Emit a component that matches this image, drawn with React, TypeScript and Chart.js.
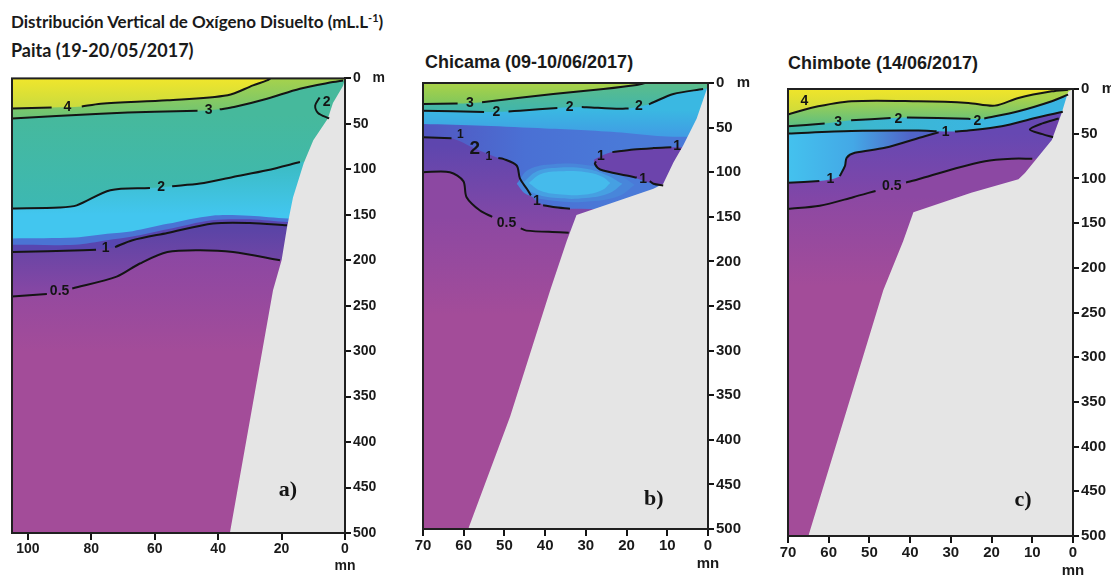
import React, { useEffect, useRef } from "react";
import { Chart, registerables } from "chart.js";
Chart.register(...registerables);

type P = [number, number] | null;
type Lab = { x: number; y: number; t: string; s?: number };

// ---------- ticks ----------
const depthTicks = [0, 50, 100, 150, 200, 250, 300, 350, 400, 450, 500];
const paitaXTicks = [0, 20, 40, 60, 80, 100];
const coastXTicks = [0, 10, 20, 30, 40, 50, 60, 70];

// ---------- Paita (a) ----------
const paitaBathy: P[] = [[0, 0], [0.6, 8], [3.8, 27], [5.4, 44], [10, 68], [13, 93], [16.4, 131], [18.3, 164], [20, 200], [22.7, 233], [36.3, 500]];
const paitaC4: P[] = [[105, 33], [92.5, 32], null, [83, 31], [77, 27.8], [56, 24], [37, 18.6], [29, 7.7], [24.6, 2.2], [23.5, 0]];
const paitaC3: P[] = [[105, 44], [77, 38.8], [60, 36.6], [46.5, 35.6], null, [39.5, 34], [35, 31.5], [24.6, 22.3], [14.2, 11.3], [3.8, 4], [0.6, 2.2]];
const paitaC2: P[] = [[105, 143], [90, 142], [84.6, 139.6], [74, 123], [61.5, 120.5], null, [54.5, 118.5], [45.7, 115.7], [35.3, 108.4], [24.6, 101], [14.2, 92]];
const paitaC2b: P[] = [[8, 21], [9.4, 30], [8.5, 38], [5, 44]];
const paitaC1: P[] = [[105, 191], [82.6, 189], [78.5, 188.5], null, [72.5, 185.5], [67, 178], [56, 170], [41.6, 159.6], [30, 159], [18.3, 161.6]];
const paitaC05: P[] = [[105, 240], [94, 237], null, [86, 231], [72, 218], [64.7, 203.6], [56, 191], [45.7, 189], [35.3, 191], [20.5, 200]];
const paitaL14: P[] = [[105, 176], [85, 175], [75, 171], [67, 168], [56, 160], [42, 151], [30, 151], [18, 154], [0, 154]];
const paitaL12: P[] = [[105, 183], [85, 183], [75, 178], [67, 174], [56, 166], [42, 156], [30, 155], [18, 158], [0, 158]];
const paitaLabels: Lab[] = [
  { x: 87.5, y: 31.5, t: "4" }, { x: 43, y: 35, t: "3" }, { x: 58, y: 119.5, t: "2" },
  { x: 75.5, y: 187, t: "1" }, { x: 90, y: 234, t: "0.5" }, { x: 5.8, y: 26, t: "2" },
];

// ---------- Chicama (b) ----------
const chicamaBathy: P[] = [[0, 0], [0.3, 7], [2.8, 40], [6.1, 70], [8.5, 89], [11, 113], [13.4, 118.6], [24, 135], [32.3, 148], [34.7, 177], [38.8, 233], [48.6, 374], [58.9, 500]];
const chicamaC3: P[] = [[70, 23.5], [61.5, 23], null, [55.5, 21.5], [38, 12.3], [25.7, 6.7], [17.5, 2.2], [15.5, 0]];
const chicamaC2: P[] = [[70, 31], [55, 32.5], null, [49, 32], [46.2, 31], [37, 28], null, [31, 27], [29.8, 27.2], [21.6, 29], [19.5, 28.5], null, [14.5, 24], [13.4, 21.6], [8.5, 12.3], [1.2, 6.7]];
const chicamaC1: P[] = [[70, 60.8], [63, 62], null, [51.5, 84], [50.3, 85], [47, 92.5], [46.2, 107], [44.5, 118.6], [43.5, 126], null, [40.5, 137], [38, 139], [33.9, 141]];
const chicamaC1Area: P[] = [[70, 60.8], [63, 62], [57, 74], [51.5, 84], [50.3, 85], [47, 92.5], [46.2, 107], [44.5, 118.6], [42, 133], [38, 139], [33.9, 141], [0, 141]];
const chicamaLoopTop: P[] = [[23.5, 77.5], [18.3, 74.6], [13.4, 73], [9, 72]];
const chicamaLoopBot: P[] = [[27.5, 88], [27.8, 90.6], [26.5, 97], [20, 103.7], [17.5, 106], null, [14.3, 110], [13.4, 113], [11, 115]];
const chicamaLoopAreaTop: P[] = [[28, 86], [24, 78], [18.3, 74.6], [13.4, 73], [9, 72], [5, 72]];
const chicamaLoopAreaBot: P[] = [[28, 86], [27.8, 90.6], [26.5, 97], [20, 103.7], [13.4, 113], [11, 115], [5, 115]];
const chicamaC05: P[] = [[70, 100], [63.4, 100], [60.1, 110], [59.3, 128], [56, 143], [53, 150], null, [46, 163], [44.6, 165.5], [36.4, 167.4], [34.2, 168]];
const chicamaCyan: P[] = [[70, 46], [55, 48], [40, 51], [30, 53], [20, 56], [10, 60], [0, 60]];
const chicamaBlobTop: P[] = [[47, 113], [44, 97], [38, 91], [30, 92], [23, 100], [18, 114]];
const chicamaBlobBot: P[] = [[47, 113], [44.5, 125], [38, 132], [30, 133], [22, 127], [18, 114]];
const chicamaMidTop: P[] = [[45.5, 112], [42, 99], [37, 95], [30, 96], [25, 103], [21, 113]];
const chicamaMidBot: P[] = [[45.5, 112], [43, 123], [37, 129], [30, 129], [24, 123], [21, 113]];
const chicamaCoreTop: P[] = [[44, 112], [41, 102], [36, 99], [30, 100], [26, 105], [24, 112]];
const chicamaCoreBot: P[] = [[44, 112], [41, 121], [36, 125], [30, 125], [26, 120], [24, 112]];
const chicamaLabels: Lab[] = [
  { x: 58.5, y: 23, t: "3" }, { x: 52, y: 33, t: "2" }, { x: 34, y: 27.5, t: "2" }, { x: 17, y: 26.5, t: "2" },
  { x: 60.8, y: 58, t: "1", s: 12 }, { x: 57.3, y: 74, t: "2", s: 19 }, { x: 53.8, y: 83, t: "1", s: 12 },
  { x: 42, y: 132, t: "1" }, { x: 26.3, y: 82, t: "1" }, { x: 7.6, y: 71, t: "1" }, { x: 15.9, y: 108, t: "1" },
  { x: 49.5, y: 157, t: "0.5" },
];

// ---------- Chimbote (c) ----------
const chimBathy: P[] = [[0, 0], [1.2, 3], [2.8, 27], [5.2, 57], [7.7, 71], [11.8, 94], [13.4, 101], [25, 116], [39.2, 138], [41.7, 170], [46.6, 225], [65, 500]];
const chimC4: P[] = [[70, 28.6], [64.2, 21], [54.4, 13.8], [38, 13.8], [25.7, 15.6], [19.2, 18.6], [13.4, 10], [5.2, 2.6], [1.2, 0.8]];
const chimC3: P[] = [[70, 41.7], [61, 38.7], null, [54.5, 35], [44.8, 32.5], null, [40.8, 31.8], [25.7, 33.3], [25.2, 33.5], null, [21.8, 33], [13.4, 24.9], [5.2, 13.7], [1.2, 6.3]];
const chimC2: P[] = [[70, 49.8], [54.4, 47], [38, 46.5], [33.5, 47.3], null, [29, 47.5], [25.7, 46.5], [17.5, 41.7], [9.3, 32.4], [2.5, 25.5]];
const chimC1: P[] = [[70, 105], [62.3, 103], null, [57.3, 97.5], [56, 86], [55.6, 77], [53.6, 71.4], [46.2, 65.8], [36.4, 52.8], [33, 48.5]];
const chimLoop: P[] = [[3.5, 33], [7.5, 38.5], [10.6, 45.4], [7.5, 50.5], [4.9, 54]];
const chimLoopTop: P[] = [[10.6, 45.4], [7.5, 38.5], [3, 33]];
const chimLoopBot: P[] = [[10.6, 45.4], [7.5, 50.5], [3, 54]];
const chimC05: P[] = [[70, 134], [62.2, 130.6], [54, 121], [48.5, 114], null, [41, 104.5], [38, 101], [29.8, 90], [21.6, 80.7], [15, 78], [10, 78]];
const chimLabels: Lab[] = [
  { x: 66, y: 14, t: "4" }, { x: 57.7, y: 37, t: "3" }, { x: 42.9, y: 33.5, t: "2" }, { x: 23.5, y: 35.5, t: "2" },
  { x: 31.3, y: 48.5, t: "1" }, { x: 59.6, y: 101, t: "1" }, { x: 44.5, y: 108.6, t: "0.5" },
];

// ---------- helpers ----------
const SANS = "'Liberation Sans', Arial, Helvetica, sans-serif";
const toXY = (arr: P[]) => {
  let lastX = 0;
  return arr.map((p) => {
    if (p) { lastX = p[0]; return { x: p[0], y: p[1] }; }
    return { x: lastX, y: null as any };
  });
};
const solid = (arr: P[], ext: P[] = []) => [...arr.filter(Boolean), ...ext] as P[];
type Stop = [number, string];
const vGrad = (stops: Stop[]) => (c: any) => {
  const chart = c.chart;
  const s = chart.scales && chart.scales.y;
  if (!chart.chartArea || !s) return stops[0][1];
  const d0 = stops[0][0], d1 = stops[stops.length - 1][0];
  const g = chart.ctx.createLinearGradient(0, s.getPixelForValue(d0), 0, s.getPixelForValue(d1));
  for (const [d, col] of stops) g.addColorStop((d - d0) / (d1 - d0), col);
  return g;
};
const hGrad = (stops: Stop[]) => (c: any) => {
  const chart = c.chart;
  const s = chart.scales && chart.scales.x;
  if (!chart.chartArea || !s) return stops[0][1];
  const d0 = stops[0][0], d1 = stops[stops.length - 1][0];
  const g = chart.ctx.createLinearGradient(s.getPixelForValue(d0), 0, s.getPixelForValue(d1), 0);
  for (const [d, col] of stops) g.addColorStop((d - d0) / (d1 - d0), col);
  return g;
};

type Layer = { data: P[]; color: any; pair?: P[] };
type PanelCfg = {
  left: number; top: number; w: number; h: number; padLeft: number; yAxisW: number; xAxisH: number;
  xmax: number; xTicks: number[]; tickSize: number;
  layers: Layer[]; bathy: P[]; lines: P[][]; labels: Lab[]; letter: Lab;
};

const PAITA: PanelCfg = {
  left: 0, top: 68, w: 390, h: 508, padLeft: 12, yAxisW: 45, xAxisH: 43, xmax: 105, xTicks: paitaXTicks, tickSize: 14,
  layers: [
    { data: [[105, 500], [0, 500]], color: vGrad([[190, "#8b47a3"], [300, "#a34c99"]]) },
    { data: solid(paitaC05, [[0, 200]]), color: vGrad([[165, "#5a44a6"], [235, "#8647a4"]]) },
    { data: solid(paitaC1, [[0, 162]]), color: "#5846b0" },
    { data: paitaL12, color: "#4a74d4" },
    { data: paitaL14, color: vGrad([[95, "#3cbcc4"], [150, "#42c6ef"]]) },
    { data: solid(paitaC2, [[0, 92]]), color: vGrad([[40, "#46b99c"], [140, "#3db8b2"]]) },
    { data: solid(paitaC3, [[0, 2]]), color: vGrad([[0, "#a6d24c"], [44, "#6ac277"]]) },
    { data: solid(paitaC4), color: vGrad([[0, "#f0e62c"], [32, "#cadb3e"]]) },
  ],
  bathy: paitaBathy,
  lines: [paitaC4, paitaC3, paitaC2, paitaC2b, paitaC1, paitaC05],
  labels: paitaLabels,
  letter: { x: 18, y: 453, t: "a)" },
};

const CHICAMA: PanelCfg = {
  left: 409, top: 72, w: 344, h: 504, padLeft: 14, yAxisW: 45, xAxisH: 47, xmax: 70, xTicks: coastXTicks, tickSize: 15,
  layers: [
    { data: [[70, 500], [0, 500]], color: vGrad([[150, "#8c48a2"], [260, "#a34c99"]]) },
    { data: solid(chicamaC05, [[0, 168]]), color: vGrad([[70, "#5e46ae"], [165, "#8748a5"]]) },
    { data: chicamaC1Area, color: hGrad([[70, "#5256c0"], [45, "#4a70d4"], [20, "#4a7ad8"]]) },
    { data: chicamaBlobTop, pair: chicamaBlobBot, color: "#4886da" },
    { data: chicamaMidTop, pair: chicamaMidBot, color: "#46a0e2" },
    { data: chicamaCoreTop, pair: chicamaCoreBot, color: "#45bbec" },
    { data: chicamaLoopAreaTop, pair: chicamaLoopAreaBot, color: "#6c44ac" },
    { data: chicamaCyan, color: vGrad([[30, "#3ab8e2"], [58, "#409ee4"]]) },
    { data: solid(chicamaC2, [[0, 6]]), color: vGrad([[0, "#5cbd8a"], [32, "#40b5ac"]]) },
    { data: solid(chicamaC3), color: vGrad([[0, "#aad248"], [24, "#80c75c"]]) },
  ],
  bathy: chicamaBathy,
  lines: [chicamaC3, chicamaC2, chicamaC1, chicamaLoopTop, chicamaLoopBot, chicamaC05],
  labels: chicamaLabels,
  letter: { x: 13.3, y: 467, t: "b)" },
};

const CHIMBOTE: PanelCfg = {
  left: 774, top: 78, w: 337, h: 498, padLeft: 14, yAxisW: 38, xAxisH: 40, xmax: 70, xTicks: coastXTicks, tickSize: 15,
  layers: [
    { data: [[70, 500], [0, 500]], color: vGrad([[120, "#8c48a3"], [220, "#a34c99"]]) },
    { data: solid(chimC05, [[0, 78]]), color: vGrad([[50, "#6648b2"], [130, "#8446a6"]]) },
    { data: solid(chimC1), color: hGrad([[70, "#44c2ee"], [54, "#44a8e6"], [40, "#5064c8"]]) },
    { data: chimLoopTop, pair: chimLoopBot, color: "#6a40a8" },
    { data: solid(chimC2, [[0, 25]]), color: hGrad([[70, "#3fb7a6"], [50, "#3cb7d0"], [20, "#3ab5e2"]]) },
    { data: solid(chimC3, [[0, 6]]), color: vGrad([[10, "#a8d24a"], [40, "#5fbf80"]]) },
    { data: solid(chimC4), color: vGrad([[0, "#f0e52a"], [25, "#d0db3a"]]) },
  ],
  bathy: chimBathy,
  lines: [chimC4, chimC3, chimC2, chimC1, chimLoop, chimC05],
  labels: chimLabels,
  letter: { x: 12.3, y: 460, t: "c)" },
};

function buildConfig(cfg: PanelCfg): any {
  const ds: any[] = [];
  const base = { pointRadius: 0, pointHoverRadius: 0, tension: 0.3, spanGaps: false };
  const none = "rgba(0,0,0,0)";
  for (const layer of cfg.layers) {
    if (layer.pair) {
      const idx = ds.length;
      ds.push({ ...base, tension: 0.4, data: toXY(layer.data), borderWidth: 0, borderColor: none, backgroundColor: layer.color, fill: idx + 1 });
      ds.push({ ...base, tension: 0.4, data: toXY(layer.pair), borderWidth: 0, borderColor: none, fill: false });
    } else {
      ds.push({ ...base, data: toXY(layer.data), borderWidth: 0, borderColor: none, backgroundColor: layer.color, fill: { value: 0 } });
    }
  }
  ds.push({ ...base, tension: 0, data: toXY(cfg.bathy), borderWidth: 0, borderColor: none, backgroundColor: "#e5e5e5", fill: { value: 500 } });
  for (const ln of cfg.lines) {
    ds.push({ ...base, data: toXY(ln), borderWidth: 2, borderColor: "#141414", fill: false });
  }
  ds.forEach((d, i) => (d.order = ds.length - i));

  const tickFont = { family: SANS, weight: "bold", size: cfg.tickSize };
  const overlay = {
    id: "overlay",
    afterDatasetsDraw(chart: any) {
      const { ctx, chartArea: a, scales } = chart;
      ctx.save();
      ctx.fillStyle = "#141414";
      ctx.textAlign = "center";
      ctx.textBaseline = "middle";
      for (const l of cfg.labels) {
        ctx.font = `bold ${l.s || 14}px ${SANS}`;
        ctx.fillText(l.t, scales.x.getPixelForValue(l.x), scales.y.getPixelForValue(l.y));
      }
      ctx.font = `bold 22px 'Liberation Serif', 'DejaVu Serif', serif`;
      ctx.fillText(cfg.letter.t, scales.x.getPixelForValue(cfg.letter.x), scales.y.getPixelForValue(cfg.letter.y));
      ctx.strokeStyle = "#202020";
      ctx.lineWidth = 2;
      ctx.strokeRect(a.left, a.top, a.right - a.left, a.bottom - a.top);
      ctx.restore();
    },
  };

  return {
    type: "line",
    data: { datasets: ds },
    options: {
      animation: false,
      responsive: false,
      maintainAspectRatio: false,
      events: [],
      layout: { padding: { left: cfg.padLeft, top: 10, right: 0, bottom: 0 } },
      plugins: { legend: { display: false }, tooltip: { enabled: false }, title: { display: false } },
      scales: {
        x: {
          type: "linear", min: 0, max: cfg.xmax, reverse: true, position: "bottom",
          afterBuildTicks: (s: any) => { s.ticks = cfg.xTicks.map((v) => ({ value: v })); },
          afterFit: (s: any) => { s.height = cfg.xAxisH; },
          grid: { display: true, drawOnChartArea: false, drawTicks: true, tickLength: 7, color: "#141414", lineWidth: 2 },
          border: { display: true, color: "#141414", width: 2 },
          ticks: { font: tickFont, color: "#1a1a1a", padding: 1, autoSkip: false, maxRotation: 0,
            callback: (v: any) => (v === 0 ? ["0", "mn"] : String(v)) },
        },
        y: {
          type: "linear", min: 0, max: 500, reverse: true, position: "right",
          afterBuildTicks: (s: any) => { s.ticks = depthTicks.map((v) => ({ value: v })); },
          afterFit: (s: any) => { s.width = cfg.yAxisW; },
          grid: { display: true, drawOnChartArea: false, drawTicks: true, tickLength: 6, color: "#141414", lineWidth: 2 },
          border: { display: true, color: "#141414", width: 2 },
          ticks: { font: tickFont, color: "#1a1a1a", padding: 2, autoSkip: false,
            callback: (v: any) => (v === 0 ? "0   m" : String(v)) },
        },
      },
    },
    plugins: [overlay],
  };
}

function Panel({ cfg }: { cfg: PanelCfg }) {
  const ref = useRef<HTMLCanvasElement>(null);
  useEffect(() => {
    const chart = new Chart(ref.current as HTMLCanvasElement, buildConfig(cfg));
    return () => chart.destroy();
  }, [cfg]);
  return (
    <canvas ref={ref} width={cfg.w} height={cfg.h}
      style={{ position: "absolute", left: cfg.left, top: cfg.top, width: cfg.w, height: cfg.h }} />
  );
}

export default function App() {
  const titleStyle: any = { position: "absolute", whiteSpace: "nowrap", color: "#1a1a1a", lineHeight: "normal" };
  return (
    <div style={{ position: "absolute", left: 0, top: 0, width: 1111, height: 576, background: "#fff", overflow: "hidden" }}>
      <div style={{ ...titleStyle, left: 11, top: 11, font: "bold 17px Lato, 'Open Sans', sans-serif" }}>
        Distribución Vertical de Oxígeno Disuelto (mL.L<span style={{ fontSize: 11, position: "relative", top: -6 }}>-1</span>)
      </div>
      <div style={{ ...titleStyle, left: 11, top: 39, font: "bold 18px Lato, 'Open Sans', sans-serif" }}>
        Paita (19-20/05/2017)
      </div>
      <div style={{ ...titleStyle, left: 425, top: 52, font: `bold 18px ${SANS}` }}>Chicama (09-10/06/2017)</div>
      <div style={{ ...titleStyle, left: 788, top: 53, font: `bold 18px ${SANS}` }}>Chimbote (14/06/2017)</div>
      <Panel cfg={PAITA} />
      <Panel cfg={CHICAMA} />
      <Panel cfg={CHIMBOTE} />
    </div>
  );
}
